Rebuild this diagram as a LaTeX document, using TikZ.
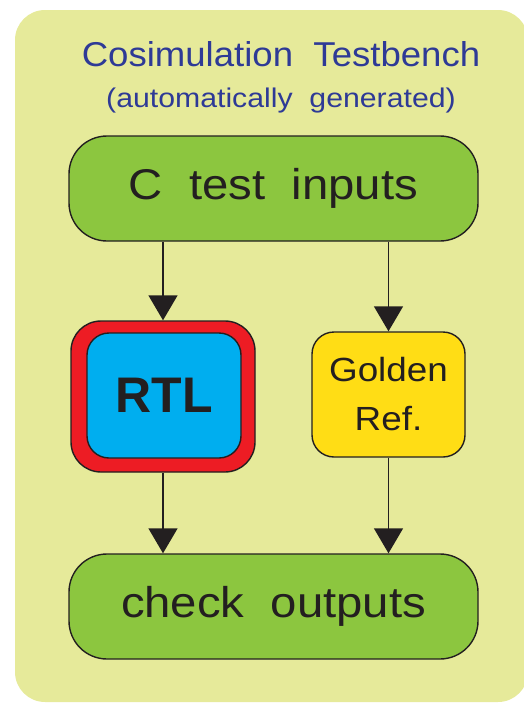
\documentclass[tikz,border=0pt]{standalone}
\usepackage{fontspec}
\setmainfont{Liberation Sans}
\newfontfamily\widesans[FakeStretch=1.1]{Liberation Sans}
\newfontfamily\titlesans[FakeStretch=1.12]{Liberation Sans}
\newfontfamily\headsans[FakeStretch=1.06]{Liberation Sans}
\usetikzlibrary{arrows.meta}
\definecolor{bgyel}{RGB}{230,234,154}
\definecolor{boxgreen}{RGB}{140,198,63}
\definecolor{rtlblue}{RGB}{0,174,239}
\definecolor{rtlred}{RGB}{237,28,36}
\definecolor{goldyel}{RGB}{255,221,21}
\definecolor{titleblue}{RGB}{46,58,150}
\definecolor{edge}{RGB}{35,31,32}
\tikzset{
  flowbox/.style={draw=edge, line width=1.4pt, rounded corners=38pt, fill=boxgreen,
    minimum width=409pt, minimum height=105pt, inner sep=0pt,
    font=\widesans\fontsize{43}{50}\selectfont, text=edge},
  smallbox/.style={draw=edge, line width=1.4pt, rounded corners=22pt,
    minimum width=153pt, minimum height=125pt, inner sep=0pt, text=edge},
  arr/.style={draw=edge, line width=1.5pt, -{Triangle[width=29pt,length=25pt]}},
}
\begin{document}
\begin{tikzpicture}[x=1pt,y=-1pt]
\useasboundingbox (0,0) rectangle (524,704);
\fill[bgyel, rounded corners=30pt] (15,10) rectangle (528,702);
\node[text=titleblue, font=\headsans\fontsize{34.5}{40}\selectfont, anchor=base] (t1) at (281,66) {Cosimulation\ \ Testbench};
\node[text=titleblue, font=\titlesans\fontsize{27}{30}\selectfont, anchor=base] (t2) at (281,107) {(automatically\ \ generated)};
\node[flowbox] (inp) at (273.5,188.5) {C\ \ test\ \ inputs};
\node[flowbox] (chk) at (273.5,606.5) {check\ \ outputs};
\node[smallbox, fill=rtlred, rounded corners=30pt, minimum width=184pt, minimum height=151pt] (rtlo) at (163,396.5) {};
\node[smallbox, fill=rtlblue, minimum width=154pt, minimum height=125pt,
  font=\bfseries\fontsize{50}{56}\selectfont] (rtl) at (164,395.5) {RTL};
\node[smallbox, fill=goldyel, align=center,
  font=\widesans\fontsize{33.5}{49}\selectfont] (gold) at (388.5,394.5) {Golden\\Ref.};
\draw[arr] (rtlo.north |- inp.south) -- (rtlo.north);
\draw[arr] (gold.north |- inp.south) -- (gold.north);
\draw[arr] (rtlo.south) -- (rtlo.south |- chk.north);
\draw[arr] (gold.south) -- (gold.south |- chk.north);
\end{tikzpicture}
\end{document}
